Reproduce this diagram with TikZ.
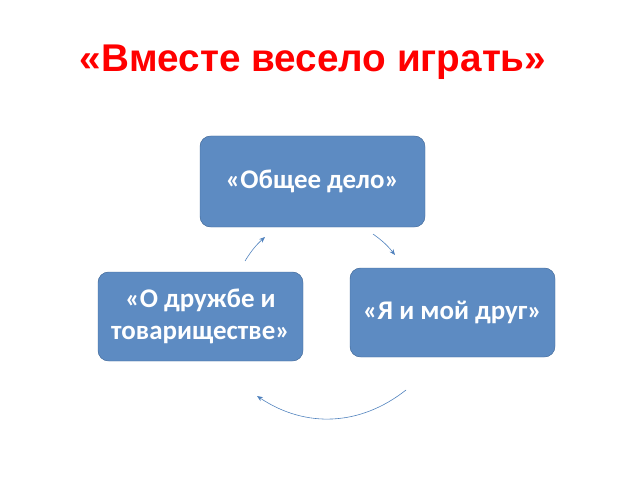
\documentclass[tikz,border=0pt]{standalone}
\usepackage{fontspec}
\setmainfont{Carlito}
\newfontfamily\titlefont{Liberation Sans}
\usetikzlibrary{arrows.meta}
\definecolor{boxblue}{HTML}{4F81BD}
\tikzset{
  topic/.style={draw=boxblue!80!black,fill=boxblue!92!white,rounded corners=9pt,text=white,
    font=\fontsize{23}{27}\selectfont\bfseries,align=center,inner sep=0pt},
  cycle/.style={draw=boxblue,line width=0.5pt,-{Stealth[length=5pt,width=4pt]}}
}
\begin{document}
\begin{tikzpicture}[x=0.03cm,y=-0.03cm]
\useasboundingbox (0,0) rectangle (640,480);
\node[text=red,font=\titlefont\fontsize{33}{38}\selectfont\bfseries] (title) at (313,62) {«Вместе весело играть»};
\node[topic,minimum width=225*0.03cm,minimum height=91*0.03cm] (common) at (312.5,181.5) {«Общее дело»};
\node[topic,minimum width=205*0.03cm,minimum height=89*0.03cm] (friend) at (452.5,312.5) {«Я и мой друг»};
\node[topic,minimum width=205*0.03cm,minimum height=89*0.03cm] (friendship) at (200.5,316.5) {«О дружбе и\\товариществе»};
\coordinate (a1) at (245,261); \coordinate (a2) at (265,237);
\coordinate (b1) at (373,234); \coordinate (b2) at (395,255);
\coordinate (c1) at (406,390); \coordinate (c2) at (257,396);
\draw[cycle] (a1) to[bend left=8] (a2);
\draw[cycle] (b1) to[bend left=8] (b2);
\draw[cycle] (c1) to[bend left=36] (c2);
\end{tikzpicture}
\end{document}
